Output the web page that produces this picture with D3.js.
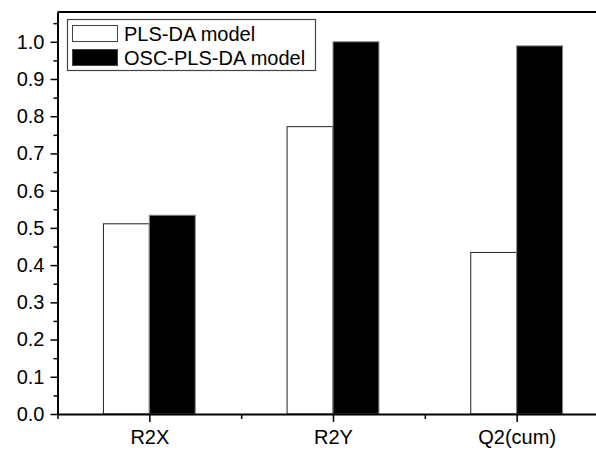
<!DOCTYPE html>
<html>
<head>
<meta charset="utf-8">
<script src="https://cdn.jsdelivr.net/npm/d3@7"></script>
<style>
  body { margin: 0; background: #fff; }
  svg { display: block; }
  text { font-family: "Liberation Sans", Arial, sans-serif; fill: #000; }
</style>
</head>
<body>
<div id="chart"></div>
<script>
const categories = ["R2X", "R2Y", "Q2(cum)"];
const plsda = [0.511, 0.772, 0.434];
const oscPlsda = [0.534, 1.0, 0.989];
const seriesNames = ["PLS-DA model", "OSC-PLS-DA model"];
const yTicks = [0.0, 0.1, 0.2, 0.3, 0.4, 0.5, 0.6, 0.7, 0.8, 0.9, 1.0];

const width = 596, height = 450;
const svg = d3.select("#chart").append("svg")
    .attr("width", width)
    .attr("height", height);

const x = d3.scaleLinear().domain([0.5, 3.5]).range([57.5, 608.5]);
const y = d3.scaleLinear().domain([0, 1.08]).range([414, 12]);
const barW = (x(1.5) - x(0.5)) * 0.25;

// bars
const data = categories.map((c, i) => ({ cat: c, i: i + 1, a: plsda[i], b: oscPlsda[i] }));

svg.selectAll(".barA")
    .data(data)
    .enter().append("rect")
        .attr("class", "barA")
        .attr("x", d => x(d.i) - barW)
        .attr("y", d => y(d.a))
        .attr("width", barW)
        .attr("height", d => y(0) - y(d.a))
        .style("fill", "#fff")
        .style("stroke", "#222")
        .style("stroke-width", 1);

svg.selectAll(".barB")
    .data(data)
    .enter().append("rect")
        .attr("class", "barB")
        .attr("x", d => x(d.i))
        .attr("y", d => y(d.b))
        .attr("width", barW)
        .attr("height", d => y(0) - y(d.b))
        .style("fill", "#000")
        .style("stroke", "#888")
        .style("stroke-width", 1);

// y axis, minor then major
const yMinor = d3.range(0.05, 1.08, 0.1);
svg.append("g")
    .attr("transform", `translate(${x(0.5)},0)`)
    .call(d3.axisLeft(y).tickValues(yMinor).tickSize(4).tickFormat(""))
    .call(g => g.select(".domain").remove())
    .selectAll("line").style("stroke-width", 1.5);

const yAxis = svg.append("g")
    .attr("transform", `translate(${x(0.5)},0)`)
    .call(d3.axisLeft(y).tickValues(yTicks).tickSize(7).tickSizeOuter(0).tickPadding(6).tickFormat(d3.format(".1f")));
yAxis.select(".domain").style("stroke-width", 2);
yAxis.selectAll("line").style("stroke-width", 1.5);
yAxis.selectAll("text").style("font-size", "20px").style("font-family", "'Liberation Sans', Arial, sans-serif");

// x axis
svg.append("g")
    .attr("transform", `translate(0,${y(0)})`)
    .call(d3.axisBottom(x).tickValues([0.5, 1.5, 2.5]).tickSize(5).tickFormat(""))
    .call(g => g.select(".domain").remove())
    .selectAll("line").style("stroke-width", 1.5);

const xAxis = svg.append("g")
    .attr("transform", `translate(0,${y(0)})`)
    .call(d3.axisBottom(x).tickValues([1, 2, 3]).tickSize(8).tickSizeOuter(0).tickPadding(8)
        .tickFormat(d => categories[d - 1]));
xAxis.select(".domain").style("stroke-width", 2);
xAxis.selectAll("line").style("stroke-width", 1.5);
xAxis.selectAll("text").style("font-size", "20px").style("font-family", "'Liberation Sans', Arial, sans-serif");

// top frame
svg.append("line")
    .attr("x1", x(0.5)).attr("x2", width)
    .attr("y1", y(1.08)).attr("y2", y(1.08))
    .style("stroke", "#000").style("stroke-width", 2);

// legend
const legend = svg.append("g");
legend.append("rect")
    .attr("x", 67.5).attr("y", 19.5)
    .attr("width", 248).attr("height", 51)
    .style("fill", "#fff").style("stroke", "#444").style("stroke-width", 1.2);

const swatchFill = ["#fff", "#000"];
const swatchStroke = ["#444", "#444"];
seriesNames.forEach((name, i) => {
    legend.append("rect")
        .attr("x", 72.5).attr("y", 25.5 + i * 24)
        .attr("width", 45).attr("height", 16)
        .style("fill", swatchFill[i]).style("stroke", swatchStroke[i]).style("stroke-width", 1);
    legend.append("text")
        .attr("x", 124).attr("y", 40.5 + i * 24)
        .style("font-size", "20px")
        .text(name);
});
</script>
</body>
</html>
